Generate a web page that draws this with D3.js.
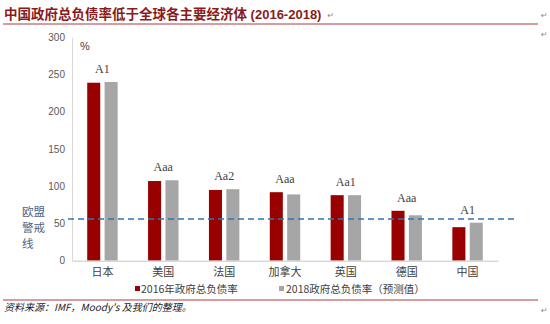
<!DOCTYPE html>
<html>
<head>
<meta charset="utf-8">
<script src="https://cdn.jsdelivr.net/npm/d3@7/dist/d3.min.js"></script>
<style>
  html, body { margin: 0; padding: 0; background: #fff; }
  svg { display: block; }
</style>
</head>
<body>
<svg id="chart" width="550" height="324"></svg>
<script>
// Government gross debt ratio by economy (% of GDP)
const categories = ["日本", "美国", "法国", "加拿大", "英国", "德国", "中国"];
const debt2016 = [239, 107, 95, 92, 88, 67, 45];
const debt2018 = [240, 108, 96, 89, 88, 61, 51];
const ratings = ["A1", "Aaa", "Aa2", "Aaa", "Aa1", "Aaa", "A1"];
const seriesNames = ["2016年政府总负债率", "2018政府总负债率（预测值）"];
const yTicks = [0, 50, 100, 150, 200, 250, 300];
const euWarning = 56;

const colors = ["#990000", "#a6a6a6"];
const svg = d3.select("#chart");

const plot = { left: 72, right: 498, top: 37.3, bottom: 260.7 };

const y = d3.scaleLinear().domain([0, 300]).range([plot.bottom, plot.top]);
const x0 = d3.scaleBand().domain(categories).range([plot.left, plot.right])
  .paddingInner(0.5).paddingOuter(0.25);
const x1 = d3.scaleBand().domain([0, 1]).range([0, x0.bandwidth()])
  .paddingInner(0.25).paddingOuter(0);

const markStyle = sel => sel.attr("fill", "#8a8a8a")
  .style("font-size", "8px").style("font-family", "'DejaVu Sans', sans-serif");

// Title and rule
const title = svg.append("text")
  .attr("x", 4).attr("y", 19)
  .attr("fill", "#8b1a1a")
  .style("font-family", "'Noto Sans CJK SC', sans-serif")
  .style("font-size", "13.5px").style("font-weight", "700");
title.append("tspan").text("中国政府总负债率低于全球各主要经济体");
title.append("tspan")
  .style("font-family", "'Liberation Sans', Arial, sans-serif")
  .style("font-size", "13px")
  .text(" (2016-2018)");
const tb = title.node().getBBox();
svg.append("text").attr("x", tb.x + tb.width + 6).attr("y", 18).call(markStyle).text("↵");
svg.append("text").attr("x", 541).attr("y", 18).call(markStyle).text("↵");
svg.append("line").attr("x1", 3).attr("x2", 538).attr("y1", 24).attr("y2", 24)
  .attr("stroke", "#b03a3a").attr("stroke-width", 1.2);
svg.append("text").attr("x", 541).attr("y", 37).call(markStyle).text("↵");

// Y axis
const yAxis = d3.axisLeft(y).tickValues(yTicks).tickSize(0).tickPadding(7);
const gy = svg.append("g").attr("transform", `translate(${plot.left},0)`).call(yAxis);
gy.select(".domain").attr("stroke", "#d9d9d9");
gy.selectAll("text")
  .attr("fill", "#595959")
  .style("font-family", "'Liberation Sans', Arial, sans-serif")
  .style("font-size", "10px");

svg.append("text").attr("x", 80).attr("y", 50)
  .attr("fill", "#404040")
  .style("font-family", "'Liberation Sans', Arial, sans-serif")
  .style("font-size", "11px").text("%");

// Bars
const groups = svg.append("g").selectAll("g")
  .data(categories).join("g")
  .attr("transform", d => `translate(${x0(d)},0)`);

groups.selectAll("rect")
  .data((d, i) => [debt2016[i], debt2018[i]])
  .join("rect")
  .attr("x", (d, j) => x1(j))
  .attr("width", x1.bandwidth())
  .attr("y", d => y(d))
  .attr("height", d => y(0) - y(d))
  .attr("fill", (d, j) => colors[j]);

// X axis (baseline and category labels)
const xAxis = d3.axisBottom(x0).tickSize(0).tickPadding(8);
const gx = svg.append("g").attr("transform", `translate(0,${plot.bottom})`).call(xAxis);
gx.select(".domain").attr("stroke", "#d9d9d9").attr("stroke-width", 1.5);
gx.selectAll("text")
  .attr("fill", "#404040")
  .style("font-family", "'Noto Sans CJK SC', sans-serif")
  .style("font-size", "11px");

// Rating labels above each pair
svg.append("g").selectAll("text")
  .data(categories).join("text")
  .attr("x", d => x0(d) + x0.bandwidth() / 2)
  .attr("y", (d, i) => y(Math.max(debt2016[i], debt2018[i])) - 9)
  .attr("text-anchor", "middle")
  .attr("fill", "#404040")
  .style("font-family", "'Liberation Serif', serif")
  .style("font-size", "12px")
  .text((d, i) => ratings[i]);

// EU warning line
svg.append("line")
  .attr("x1", 68).attr("x2", 515)
  .attr("y1", y(euWarning)).attr("y2", y(euWarning))
  .attr("stroke", "#2e75b6").attr("stroke-width", 1.6)
  .attr("stroke-dasharray", "6,4");

["欧盟", "警戒", "线"].forEach((t, i) => {
  svg.append("text")
    .attr("x", 22).attr("y", 216 + i * 16)
    .attr("fill", "#51617e")
    .style("font-family", "'Noto Sans CJK SC', sans-serif")
    .style("font-size", "11.5px")
    .text(t);
});

// Legend
const legendItems = [{ sx: 135, tx: 141 }, { sx: 279, tx: 286 }];
legendItems.forEach((p, i) => {
  svg.append("rect").attr("x", p.sx).attr("y", 286).attr("width", 5).attr("height", 5)
    .attr("fill", colors[i]);
  svg.append("text").attr("x", p.tx).attr("y", 292.5)
    .attr("fill", "#404040")
    .style("font-family", "'Noto Sans CJK SC', sans-serif")
    .style("font-size", "10.5px")
    .text(seriesNames[i]);
});

// Source note and rule
svg.append("line").attr("x1", 3).attr("x2", 538).attr("y1", 300).attr("y2", 300)
  .attr("stroke", "#b03a3a").attr("stroke-width", 1.2);
svg.append("text").attr("x", 4).attr("y", 311)
  .attr("fill", "#1a1a2a")
  .style("font-family", "'Noto Sans CJK SC', sans-serif")
  .style("font-size", "10px").style("font-style", "italic")
  .text("资料来源：IMF，Moody's 及我们的整理。");
svg.append("text").attr("x", 541).attr("y", 313).call(markStyle).text("↵");
</script>
</body>
</html>
